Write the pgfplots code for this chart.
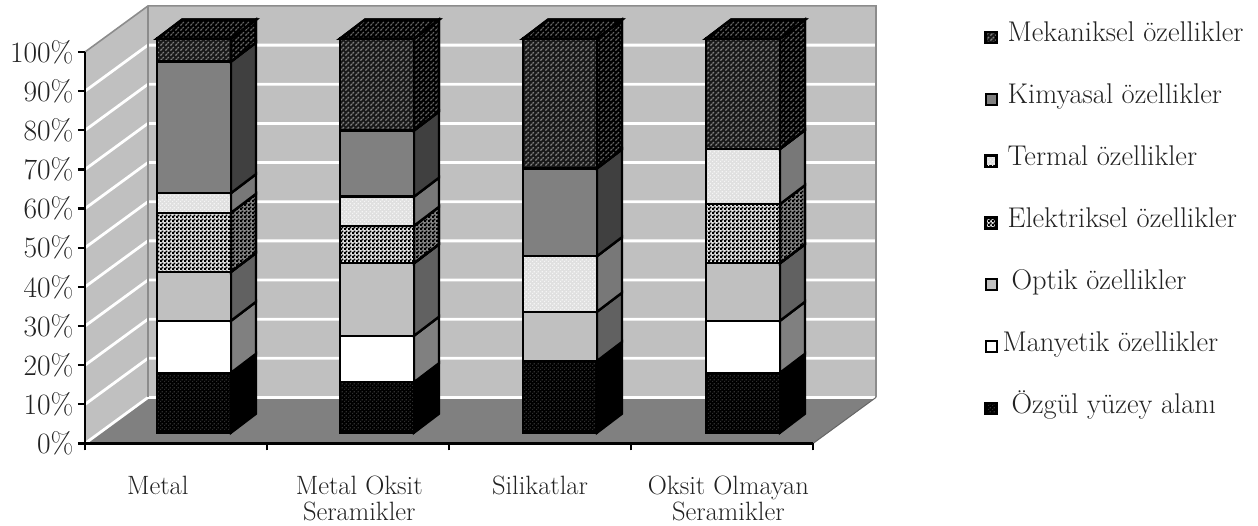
\documentclass[border=0pt]{standalone}
\usepackage{fontspec}
\usepackage{pgfplots}
\pgfplotsset{compat=1.18}
\usetikzlibrary{patterns}
\definecolor{wall}{HTML}{C0C0C0}
\definecolor{floorc}{HTML}{808080}
\definecolor{edgec}{HTML}{8C8C8C}
\definecolor{txt}{HTML}{222222}
\pgfdeclarepatternformonly{ckr}{\pgfqpoint{0pt}{0pt}}{\pgfqpoint{4pt}{4pt}}{\pgfqpoint{4pt}{4pt}}{%
  \pgfpathrectangle{\pgfqpoint{0pt}{0pt}}{\pgfqpoint{2.5pt}{2.5pt}}%
  \pgfpathrectangle{\pgfqpoint{2pt}{2pt}}{\pgfqpoint{2.2pt}{2.2pt}}%
  \pgfusepath{fill}}
\pgfdeclarepatternformonly{dts}{\pgfqpoint{0pt}{0pt}}{\pgfqpoint{4pt}{4pt}}{\pgfqpoint{4pt}{4pt}}{%
  \pgfpathrectangle{\pgfqpoint{0pt}{0pt}}{\pgfqpoint{1.4pt}{1.4pt}}%
  \pgfpathrectangle{\pgfqpoint{2pt}{2pt}}{\pgfqpoint{1.4pt}{1.4pt}}%
  \pgfusepath{fill}}
\pgfdeclarepatternformonly{dsh}{\pgfqpoint{0pt}{0pt}}{\pgfqpoint{5pt}{5pt}}{\pgfqpoint{5pt}{5pt}}{%
  \pgfsetlinewidth{1.3pt}%
  \pgfpathmoveto{\pgfqpoint{0.5pt}{0.5pt}}\pgfpathlineto{\pgfqpoint{2.4pt}{2.4pt}}%
  \pgfpathmoveto{\pgfqpoint{3pt}{3pt}}\pgfpathlineto{\pgfqpoint{4.6pt}{4.6pt}}%
  \pgfusepath{stroke}}
\tikzset{
  edge/.style={draw=black,line width=2.4pt,line join=miter},
  fBlack/.style={edge,preaction={fill=black},pattern=dts,pattern color=black!82!white},
  fMag/.style={edge,fill=white},
  fOpt/.style={edge,fill=wall},
  fEle/.style={edge,preaction={fill=white!92!black},pattern=ckr,pattern color=black},
  fThe/.style={edge,preaction={fill=black!12},pattern=dts,pattern color=white!96!black},
  fChe/.style={edge,fill=black!50},
  fMec/.style={edge,preaction={fill=black!90},pattern=dsh,pattern color=black!50},
  sBlack/.style={edge,fill=black},
  sMag/.style={edge,fill=black!50},
  sOpt/.style={edge,fill=black!62},
  sEle/.style={edge,preaction={fill=black!45},pattern=ckr,pattern color=black},
  sThe/.style={edge,fill=black!53},
  sChe/.style={edge,fill=black!75},
  sMec/.style={edge,preaction={fill=black},pattern=dsh,pattern color=black!60},
  tMec/.style={edge,preaction={fill=black},pattern=dsh,pattern color=black!60},
}
\newcommand\seg[5]{%
  \ifdim #3pt>#2pt
  \pgfmathsetmacro\xl{#1}\pgfmathsetmacro\xr{#1+0.4066}\pgfmathsetmacro\xrb{#1+0.544}%
  \pgfmathsetmacro\yb{2.76+1.0064*#2}\pgfmathsetmacro\yt{2.76+1.0064*#3}%
  \pgfmathsetmacro\ybb{\yb+4.85}\pgfmathsetmacro\ytb{\yt+4.85}%
  \addplot[forget plot,#5] coordinates {(\xr,\yb)(\xrb,\ybb)(\xrb,\ytb)(\xr,\yt)} --cycle;
  \addplot[forget plot,#4] coordinates {(\xl,\yb)(\xr,\yb)(\xr,\yt)(\xl,\yt)} --cycle;
  \fi}
\newcommand\topface[1]{%
  \pgfmathsetmacro\xl{#1}\pgfmathsetmacro\xr{#1+0.4066}\pgfmathsetmacro\xrb{#1+0.544}\pgfmathsetmacro\xlb{#1+0.1374}%
  \pgfmathsetmacro\yt{2.76+100.64}\pgfmathsetmacro\ytb{\yt+4.85}%
  \addplot[forget plot,tMec] coordinates {(\xl,\yt)(\xr,\yt)(\xrb,\ytb)(\xlb,\ytb)} --cycle;}
\newcommand\gl[1]{%
  \pgfmathsetmacro\ya{#1}\pgfmathsetmacro\yb{#1+11.76}%
  \addplot[forget plot,white,line width=2.8pt] coordinates {(0,\ya)(0.346,\yb)(4.346,\yb)};}
\begin{document}
\begin{tikzpicture}[x=1pt,y=1pt]
\useasboundingbox (0,0) rectangle (1258,526);
\begin{axis}[
  at={(85pt,82.5pt)},anchor=south west,
  scale only axis,width=728pt,height=391.5pt,
  xmin=0,xmax=4,ymin=0,ymax=100,
  clip=false,axis on top,
  axis x line*=bottom,axis y line*=left,
  axis line style={-,line width=2.4pt,black},
  tick align=outside,major tick length=7pt,
  tick style={line width=2.2pt,black},
  xtick={0,1,2,3,4},xticklabels={},
  extra x ticks={0.40,1.507,2.5,3.535},
  extra x tick labels={Metal,{Metal Oksit\\Seramikler},Silikatlar,{Oksit Olmayan\\Seramikler}},
  extra x tick style={major tick length=0pt,tick style={draw=none},
    tick label style={font=\fontsize{26.5}{26}\selectfont,text=txt,align=center,anchor=north,yshift=-29pt}},
  ytick={0,10,...,100},
  yticklabels={0\%,10\%,20\%,30\%,40\%,50\%,60\%,70\%,80\%,90\%,100\%},
  y tick label style={font=\fontsize{29.5}{29.5}\selectfont,text=txt,xshift=-1pt},
  legend cell align=left,
  legend image code/.code={\draw[#1,line width=2pt] (0pt,-5.5pt) rectangle (11pt,5.5pt);},
  legend style={at={(1.2355,1.065)},anchor=north west,draw=none,fill=none,inner sep=0pt,
    row sep=40.9pt,font=\fontsize{28.5}{28.5}\selectfont,text=txt,
    nodes={inner sep=0pt,text height=15pt,text depth=6pt,anchor=west}},
]
% walls and floor
\addplot[forget plot,fill=wall,draw=none] coordinates {(0,0)(0.346,11.76)(0.346,111.76)(0,100)} --cycle;
\addplot[forget plot,fill=wall,draw=none] coordinates {(0.346,11.76)(4.346,11.76)(4.346,111.76)(0.346,111.76)} --cycle;
\addplot[forget plot,fill=floorc,draw=none] coordinates {(0,0)(4,0)(4.346,11.76)(0.346,11.76)} --cycle;
\gl{0}\gl{10}\gl{20}\gl{30}\gl{40}\gl{50}\gl{60}\gl{70}\gl{80}\gl{90}
\addplot[forget plot,edgec,line width=1.6pt] coordinates {(0,100)(0.346,111.76)(4.346,111.76)(4.346,11.76)};
\addplot[forget plot,edgec,line width=1.2pt] coordinates {(0.346,111.76)(0.346,11.76)};
\addplot[forget plot,black!60,line width=1pt] coordinates {(4,0)(4.346,11.76)};
% Metal
\seg{0.3956}{0}{15.2}{fBlack}{sBlack}
\seg{0.3956}{15.2}{28.4}{fMag}{sMag}
\seg{0.3956}{28.4}{40.8}{fOpt}{sOpt}
\seg{0.3956}{40.8}{55.8}{fEle}{sEle}
\seg{0.3956}{55.8}{60.8}{fThe}{sThe}
\seg{0.3956}{60.8}{94.2}{fChe}{sChe}
\seg{0.3956}{94.2}{100}{fMec}{sMec}
\topface{0.3956}
% Metal Oksit Seramikler
\seg{1.401}{0}{12.8}{fBlack}{sBlack}
\seg{1.401}{12.8}{24.6}{fMag}{sMag}
\seg{1.401}{24.6}{43}{fOpt}{sOpt}
\seg{1.401}{43}{52.5}{fEle}{sEle}
\seg{1.401}{52.5}{59.9}{fThe}{sThe}
\seg{1.401}{59.9}{76.7}{fChe}{sChe}
\seg{1.401}{76.7}{100}{fMec}{sMec}
\topface{1.401}
% Silikatlar
\seg{2.4066}{0}{18.2}{fBlack}{sBlack}
\seg{2.4066}{18.2}{30.7}{fOpt}{sOpt}
\seg{2.4066}{30.7}{44.8}{fThe}{sThe}
\seg{2.4066}{44.8}{67.1}{fChe}{sChe}
\seg{2.4066}{67.1}{100}{fMec}{sMec}
\topface{2.4066}
% Oksit Olmayan Seramikler
\seg{3.412}{0}{15.2}{fBlack}{sBlack}
\seg{3.412}{15.2}{28.4}{fMag}{sMag}
\seg{3.412}{28.4}{43}{fOpt}{sOpt}
\seg{3.412}{43}{58}{fEle}{sEle}
\seg{3.412}{58}{72}{fThe}{sThe}
\seg{3.412}{72}{100}{fMec}{sMec}
\topface{3.412}
% legend
\addlegendimage{fMec}\addlegendentry{\hspace{10pt}Mekaniksel özellikler}
\addlegendimage{fChe}\addlegendentry{\hspace{10pt}Kimyasal özellikler}
\addlegendimage{fThe}\addlegendentry{\hspace{10pt}Termal özellikler}
\addlegendimage{fEle}\addlegendentry{\hspace{10pt}Elektriksel özellikler}
\addlegendimage{fOpt}\addlegendentry{\hspace{14pt}Optik özellikler}
\addlegendimage{fMag}\addlegendentry{\hspace{5pt}Manyetik özellikler}
\addlegendimage{fBlack}\addlegendentry{\hspace{14pt}Özgül yüzey alanı}
\end{axis}
\end{tikzpicture}
\end{document}
